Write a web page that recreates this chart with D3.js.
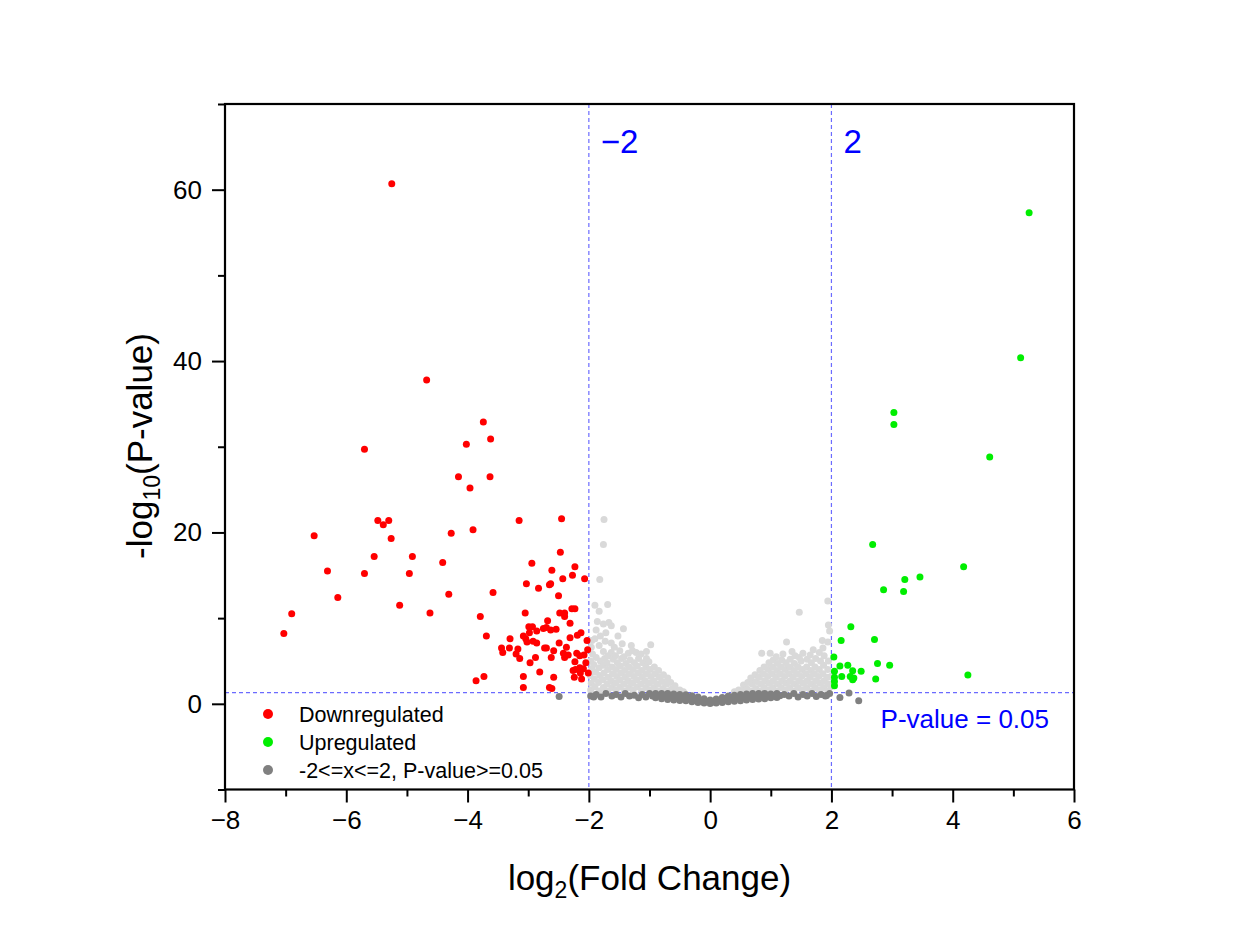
<!DOCTYPE html>
<html>
<head>
<meta charset="utf-8">
<script src="https://cdn.jsdelivr.net/npm/d3@7/dist/d3.min.js"></script>
<style>
  html, body { margin: 0; padding: 0; background: #ffffff; }
  svg { display: block; font-family: "Liberation Sans", Arial, sans-serif; }
</style>
</head>
<body>
<svg id="chart" width="1247" height="945"></svg>
<script>
// log2 fold change / -log10 p-value pairs, grouped by class
const downregulated = [
  [-5.25,60.7],[-4.675,37.8],[-3.74,32.9],[-3.62,30.9],[-4.02,30.3],[-5.70,29.7],[-4.15,26.5],[-3.63,26.5],
  [-3.96,25.2],[-3.15,21.4],[-2.45,21.6],[-5.48,21.4],[-5.30,21.4],[-5.39,20.9],[-6.53,19.6],[-5.26,19.3],
  [-4.27,19.9],[-3.91,20.3],[-2.47,17.7],[-5.54,17.2],[-4.91,17.2],[-4.41,16.5],[-2.94,16.4],[-2.61,15.6],
  [-2.23,16.0],[-2.27,15.0],[-6.31,15.5],[-5.70,15.2],[-4.96,15.2],[-2.43,14.6],[-2.07,14.6],[-3.03,14.0],
  [-2.83,13.5],[-2.65,13.9],[-2.63,14.0],[-3.58,13.0],[-4.31,12.8],[-6.14,12.4],[-2.50,12.6],[-5.12,11.5],
  [-4.62,10.6],[-6.90,10.5],[-3.05,10.6],[-2.48,10.6],[-2.40,10.6],[-2.40,10.2],[-2.28,11.1],[-2.23,11.1],
  [-3.79,10.2],[-7.03,8.2],[-3.69,7.9],[-2.31,9.4],[-2.68,9.7],[-2.99,9.0],[-2.93,9.0],[-2.75,8.8],
  [-2.70,8.9],[-2.63,8.6],[-2.54,8.7],[-2.86,8.5],[-2.98,8.3],[-3.08,7.9],[-3.04,7.6],[-3.30,7.6],
  [-3.02,7.2],[-2.92,7.3],[-2.86,7.1],[-2.49,7.1],[-2.31,7.7],[-2.19,8.0],[-2.13,8.3],[-2.03,7.4],
  [-3.44,6.5],[-3.42,6.0],[-3.31,6.5],[-3.20,5.8],[-3.17,6.4],[-3.14,5.3],[-2.73,6.5],[-2.70,6.5],
  [-2.58,6.2],[-2.42,5.9],[-2.37,6.6],[-2.34,5.7],[-2.20,5.9],[-2.15,5.6],[-2.08,5.7],[-2.02,6.3],
  [-2.40,5.4],[-2.62,5.4],[-2.88,5.4],[-2.97,4.8],[-2.23,4.9],[-2.05,4.8],[-2.26,3.9],[-2.22,4.0],
  [-2.15,4.2],[-2.09,4.1],[-2.01,3.6],[-2.81,3.7],[-2.14,3.6],[-2.12,2.9],[-2.24,3.1],[-3.86,2.7],
  [-3.73,3.2],[-3.08,3.2],[-2.58,3.1],[-3.08,1.9],[-2.65,1.9],[-2.61,1.8]
];

const upregulated = [
  [5.26,57.3],[5.12,40.4],[3.03,34.0],[3.03,32.6],[4.61,28.8],[2.68,18.6],[4.18,16.0],[3.46,14.8],
  [3.21,14.5],[3.19,13.1],[2.86,13.3],[2.32,9.0],[2.16,7.4],[2.71,7.5],[2.04,5.45],[2.14,4.4],
  [2.27,4.5],[2.76,4.7],[2.96,4.5],[2.05,3.8],[2.35,3.85],[2.49,3.8],[2.17,3.2],[2.31,3.2],
  [2.37,3.0],[2.35,2.8],[2.73,2.9],[4.25,3.35],[2.05,3.1],[2.05,2.6],[2.05,2.1]
];

// significant p-value but |log2FC| < 2
const smallChange = [
  [-1.97,1.6],[-1.96,2.4],[-1.98,3.3],[-1.95,4.1],[-1.97,5.0],[-1.94,5.8],[-1.96,6.6],[-1.95,7.4],
  [-1.90,2.0],[-1.91,2.9],[-1.89,3.7],[-1.92,4.6],[-1.88,5.4],[-1.90,7.6],[-1.86,9.6],[-1.90,11.5],[-1.88,8.6],
  [-1.83,1.5],[-1.84,2.5],[-1.82,3.3],[-1.83,4.2],[-1.81,5.0],[-1.83,6.8],[-1.81,7.9],[-1.83,10.8],[-1.82,14.5],
  [-1.76,1.9],[-1.77,2.8],[-1.75,3.6],[-1.76,4.5],[-1.74,5.3],[-1.76,6.1],[-1.76,9.3],[-1.76,18.6],[-1.75,21.5],
  [-1.69,1.5],[-1.70,2.3],[-1.68,3.1],[-1.69,4.0],[-1.70,4.8],[-1.68,5.6],[-1.73,7.3],[-1.69,11.6],[-1.72,8.3],
  [-1.62,1.9],[-1.63,2.7],[-1.61,3.5],[-1.62,4.3],[-1.60,5.2],[-1.63,6.0],[-1.63,7.1],[-1.67,9.5],[-1.63,9.1],
  [-1.55,1.6],[-1.56,2.4],[-1.54,3.2],[-1.55,4.0],[-1.53,4.8],[-1.56,5.6],[-1.52,7.9],[-1.58,6.6],
  [-1.48,2.0],[-1.49,2.8],[-1.47,3.6],[-1.48,4.4],[-1.46,5.3],[-1.49,6.2],[-1.45,7.0],
  [-1.41,1.5],[-1.42,2.3],[-1.40,3.1],[-1.41,3.9],[-1.39,4.7],[-1.42,5.5],[-1.43,8.75],
  [-1.34,1.9],[-1.35,2.7],[-1.33,3.5],[-1.34,4.3],[-1.32,5.1],[-1.35,5.9],[-1.30,6.8],
  [-1.27,1.6],[-1.28,2.4],[-1.26,3.2],[-1.27,4.0],[-1.25,4.8],[-1.28,6.2],
  [-1.20,2.0],[-1.21,2.8],[-1.19,3.6],[-1.20,4.4],[-1.18,5.3],[-1.22,6.0],
  [-1.13,1.5],[-1.14,2.3],[-1.12,3.1],[-1.13,3.9],[-1.11,4.8],[-1.14,5.8],
  [-1.06,1.9],[-1.07,2.7],[-1.05,3.5],[-1.06,4.3],[-1.05,5.3],[-1.05,6.1],
  [-0.99,1.6],[-1.00,2.4],[-0.98,3.2],[-0.99,4.0],[-0.98,6.9],[-1.01,4.9],
  [-0.92,1.9],[-0.93,2.7],[-0.91,3.5],[-0.92,4.3],
  [-0.85,1.5],[-0.86,2.3],[-0.84,3.1],[-0.85,3.9],
  [-0.78,1.8],[-0.79,2.6],[-0.77,3.4],
  [-0.71,1.5],[-0.72,2.3],[-0.70,3.0],
  [-0.64,1.7],[-0.65,2.5],
  [-0.57,1.5],[-0.58,2.1],
  [-0.50,1.6],[-0.44,1.4],
  [0.40,1.4],[0.47,1.6],
  [0.54,1.5],[0.55,2.2],
  [0.61,1.7],[0.62,2.5],
  [0.68,1.5],[0.69,2.3],[0.67,3.0],
  [0.75,1.8],[0.76,2.6],[0.74,3.4],
  [0.82,1.5],[0.83,2.3],[0.81,3.1],[0.82,3.9],
  [0.89,1.9],[0.90,2.7],[0.88,3.5],[0.89,4.3],[0.85,5.9],
  [0.96,1.6],[0.97,2.4],[0.95,3.2],[0.96,4.0],[0.97,4.8],[0.99,5.9],
  [1.03,1.9],[1.04,2.7],[1.02,3.5],[1.03,4.3],[1.04,5.1],
  [1.10,1.5],[1.11,2.3],[1.09,3.1],[1.10,3.9],[1.11,4.7],[1.09,5.5],
  [1.17,1.9],[1.18,2.7],[1.16,3.5],[1.17,4.3],[1.18,5.1],[1.20,5.8],
  [1.24,1.6],[1.25,2.4],[1.23,3.2],[1.24,4.0],[1.25,4.8],[1.26,7.2],
  [1.31,1.9],[1.32,2.7],[1.30,3.5],[1.31,4.3],[1.32,5.2],[1.35,6.1],
  [1.38,1.5],[1.39,2.3],[1.37,3.1],[1.38,3.9],[1.39,4.7],[1.40,5.6],
  [1.45,1.9],[1.46,2.7],[1.44,3.5],[1.45,4.3],[1.47,5.4],[1.47,10.7],
  [1.52,1.6],[1.53,2.4],[1.51,3.2],[1.52,4.0],[1.50,5.0],[1.53,5.9],
  [1.59,1.9],[1.60,2.7],[1.58,3.5],[1.59,4.3],[1.60,5.2],
  [1.66,1.5],[1.67,2.3],[1.65,3.1],[1.66,3.9],[1.67,4.8],[1.65,5.7],[1.70,6.3],
  [1.73,1.9],[1.74,2.7],[1.72,3.5],[1.73,4.3],[1.74,5.3],
  [1.80,1.6],[1.81,2.4],[1.79,3.2],[1.80,4.0],[1.82,5.0],[1.80,6.0],
  [1.87,1.9],[1.88,2.7],[1.86,3.5],[1.87,4.5],[1.88,5.6],[1.86,6.5],[1.85,7.4],
  [1.94,1.5],[1.95,2.3],[1.93,3.1],[1.94,4.0],[1.95,5.0],[1.94,7.2],[1.94,12.0],[1.95,9.2],
  [1.99,2.0],[1.99,3.2],[1.97,8.5]
];

// not significant (P-value >= 0.05)
const notSignificant = [
  [-2.49,0.85],[-1.97,0.9],[-1.92,0.8],[-1.88,1.1],[-1.80,0.8],[-1.72,1.2],[-1.62,0.9],[-1.55,1.1],
  [-1.47,0.8],[-1.40,1.2],[-1.33,0.9],[-1.25,1.0],[-1.18,0.7],[-1.12,1.1],[-1.06,0.8],[-1.00,1.2],
  [-0.95,0.9],[-0.90,0.7],[-0.90,1.2],[-0.85,0.9],[-0.80,0.6],[-0.80,1.2],[-0.75,0.9],[-0.70,0.5],
  [-0.70,1.2],[-0.65,0.8],[-0.60,0.45],[-0.60,1.15],[-0.55,0.75],[-0.50,0.4],[-0.50,1.1],[-0.45,0.7],
  [-0.40,0.35],[-0.40,1.05],[-0.35,0.6],[-0.30,0.25],[-0.30,0.95],[-0.25,0.5],[-0.20,0.15],[-0.20,0.8],
  [-0.15,0.4],[-0.10,0.1],[-0.10,0.6],[-0.05,0.25],[0.00,0.05],[0.00,0.45],[0.05,0.2],[0.10,0.1],
  [0.10,0.55],[0.15,0.35],[0.20,0.15],[0.20,0.75],[0.25,0.45],[0.30,0.25],[0.30,0.9],[0.35,0.55],
  [0.40,0.3],[0.40,1.0],[0.45,0.65],[0.50,0.35],[0.50,1.1],[0.55,0.7],[0.60,0.45],[0.60,1.15],
  [0.65,0.8],[0.70,0.5],[0.70,1.2],[0.75,0.85],[0.80,0.55],[0.80,1.2],[0.85,0.9],[0.90,0.6],
  [0.90,1.2],[0.95,0.95],[1.00,0.7],[1.00,1.15],[1.05,0.9],[1.10,0.75],[1.10,1.2],[1.15,0.95],
  [1.22,1.1],[1.30,0.9],[1.38,1.2],[1.45,0.8],[1.53,1.1],[1.60,0.9],[1.68,1.2],[1.75,0.85],
  [1.83,1.1],[1.90,0.9],[1.92,0.97],[1.97,1.2],[2.14,0.75],[2.29,1.25],[2.45,0.35]
];

const xTicks = [-8, -6, -4, -2, 0, 2, 4, 6];
const xMinorTicks = [-7, -5, -3, -1, 1, 3, 5];
const yTicks = [0, 20, 40, 60];
const yMinorTicks = [-10, 10, 30, 50, 70];
const foldCutoffs = [-2, 2];
const pCutoff = 0.05;

const legendItems = [
  { label: "Downregulated", color: "#ff0000" },
  { label: "Upregulated", color: "#00ee00" },
  { label: "-2<=x<=2, P-value>=0.05", color: "#808080" }
];

const svg = d3.select("#chart");
const plot = { left: 225, right: 1074, top: 104, bottom: 789.5 };

const x = d3.scaleLinear().domain([-8, 6]).range([plot.left, plot.right]);
const y = d3.scaleLinear().domain([-10, 70]).range([plot.bottom, plot.top]);

// cutoff guide lines
const guides = svg.append("g")
  .attr("stroke", "#6b6bff").attr("stroke-width", 1.2).attr("stroke-dasharray", "4,3");
foldCutoffs.forEach(c => {
  guides.append("line").attr("x1", x(c)).attr("x2", x(c)).attr("y1", plot.top).attr("y2", plot.bottom);
});
const pLine = -Math.log10(pCutoff);
guides.append("line").attr("x1", plot.left).attr("x2", plot.right).attr("y1", y(pLine)).attr("y2", y(pLine));

// points
function drawPoints(data, color, r) {
  svg.append("g").selectAll("circle").data(data).join("circle")
    .attr("cx", d => x(d[0])).attr("cy", d => y(d[1])).attr("r", r).attr("fill", color);
}
drawPoints(smallChange, "#d9d9d9", 3.5);
drawPoints(notSignificant, "#808080", 3.5);
drawPoints(downregulated, "#ff0000", 3.5);
drawPoints(upregulated, "#00ee00", 3.5);

// guide labels
svg.append("text").attr("x", x(-2) + 12).attr("y", 153).attr("fill", "#0000ff")
  .attr("font-size", 33).text("\u22122");
svg.append("text").attr("x", x(2) + 12).attr("y", 153).attr("fill", "#0000ff")
  .attr("font-size", 33).text("2");
svg.append("text").attr("x", 1049).attr("y", 728).attr("fill", "#0000ff")
  .attr("text-anchor", "end").attr("font-size", 26).text("P-value = 0.05");

// frame
svg.append("rect").attr("x", plot.left).attr("y", plot.top)
  .attr("width", plot.right - plot.left).attr("height", plot.bottom - plot.top)
  .attr("fill", "none").attr("stroke", "#000").attr("stroke-width", 2.2);

// axes
const fmt = d3.format("d");
const xAxis = svg.append("g").attr("transform", `translate(0,${plot.bottom})`)
  .call(d3.axisBottom(x).tickValues(xTicks).tickSize(13).tickPadding(8).tickFormat(fmt));
const xMinor = svg.append("g").attr("transform", `translate(0,${plot.bottom})`)
  .call(d3.axisBottom(x).tickValues(xMinorTicks).tickSize(7).tickFormat(""));
const yAxis = svg.append("g").attr("transform", `translate(${plot.left},0)`)
  .call(d3.axisLeft(y).tickValues(yTicks).tickSize(13).tickPadding(10).tickFormat(fmt));
const yMinor = svg.append("g").attr("transform", `translate(${plot.left},0)`)
  .call(d3.axisLeft(y).tickValues(yMinorTicks).tickSize(7).tickFormat(""));

[xAxis, xMinor, yAxis, yMinor].forEach(g => {
  g.select(".domain").remove();
  g.selectAll(".tick line").attr("stroke", "#000").attr("stroke-width", 2);
  g.selectAll(".tick text").attr("fill", "#000").attr("font-size", 26)
    .attr("font-family", "'Liberation Sans', Arial, sans-serif");
});

// axis titles
const xTitle = svg.append("text").attr("x", (plot.left + plot.right) / 2).attr("y", 890)
  .attr("text-anchor", "middle").attr("font-size", 35).attr("fill", "#000");
xTitle.append("tspan").text("log");
xTitle.append("tspan").attr("font-size", 23).attr("dy", 8).text("2");
xTitle.append("tspan").attr("dy", -8).text("(Fold Change)");

const yTitle = svg.append("text").attr("transform", "translate(152,446) rotate(-90)")
  .attr("text-anchor", "middle").attr("font-size", 35).attr("fill", "#000");
yTitle.append("tspan").text("-log");
yTitle.append("tspan").attr("font-size", 23).attr("dy", 8).text("10");
yTitle.append("tspan").attr("dy", -8).text("(P-value)");

// legend
const legend = svg.append("g");
legendItems.forEach((item, i) => {
  const cy = 714 + i * 28;
  legend.append("circle").attr("cx", 268).attr("cy", cy).attr("r", 5).attr("fill", item.color);
  legend.append("text").attr("x", 299).attr("y", cy + 7.5).attr("font-size", 21.5)
    .attr("fill", "#000").text(item.label);
});
</script>
</body>
</html>
